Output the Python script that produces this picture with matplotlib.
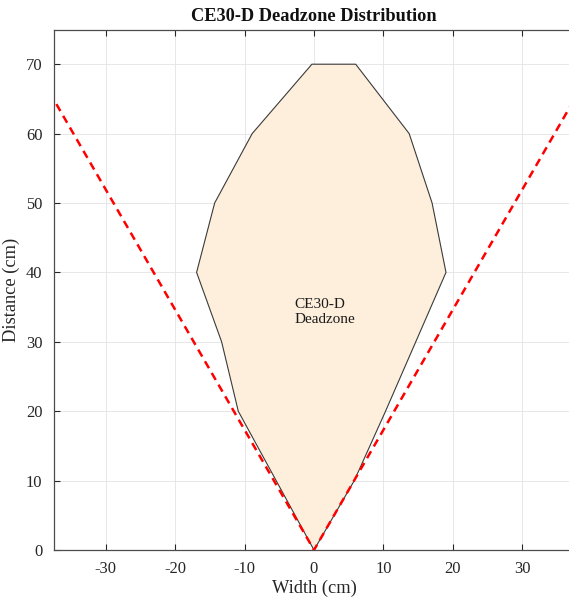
import matplotlib
matplotlib.use('Agg')
import matplotlib.pyplot as plt

# deadzone outline (cm)
zone_x = [0, -10.9, -13.3, -16.9, -14.3, -8.9, -0.3, 6.0, 13.7, 17.0, 19.0, 10.3, 5.8, 0]
zone_y = [0, 20, 30, 40, 50, 60, 70, 70, 60, 50, 40, 20, 10, 0]

# field of view boundary (dashed red)
fov_x = [-40, 0, 40]
fov_y = [69.3, 0, 69.3]

x_ticks = [-30, -20, -10, 0, 10, 20, 30]
y_ticks = [0, 10, 20, 30, 40, 50, 60, 70]

plt.rcParams['font.family'] = ['Liberation Serif', 'DejaVu Serif']
plt.rcParams['axes.unicode_minus'] = False

fig = plt.figure(figsize=(5.69, 6.01), dpi=100)
axs = fig.add_axes([53.5 / 569, 51 / 601, 521 / 569, 520.5 / 601])

# filled deadzone region
axs.fill(zone_x, zone_y, facecolor='#fdefdb', edgecolor='#3a3a3a', linewidth=0.8, zorder=2)

# sensor field of view lines
axs.plot(fov_x, fov_y, '--', color='#ff0000', linewidth=1.8, dashes=(3.2, 2.2), zorder=3)

axs.text(-2.8, 34.3, 'CE30-D\nDeadzone', fontsize=11, color='#1a1a1a',
         ha='left', va='center', linespacing=1.25, zorder=4)

axs.set_xlim(-37.5, 37.5)
axs.set_ylim(0, 75)
axs.set_xticks(x_ticks)
axs.set_yticks(y_ticks)

axs.grid(True, color='#e3e3e3', linewidth=0.6)
axs.set_axisbelow(True)
axs.tick_params(direction='in', length=4, width=0.8, top=True, right=True,
                labelsize=11.9, colors='#262626', pad=8)
for sp in axs.spines.values():
    sp.set_color('#4d4d4d')
    sp.set_linewidth(0.9)

axs.set_xlabel('Width (cm)', fontsize=13.2, color='#262626', labelpad=2)
axs.set_ylabel('Distance (cm)', fontsize=13.2, color='#262626', labelpad=4)
axs.set_title('CE30-D Deadzone Distribution', fontsize=13.2, fontweight='bold',
              color='#111111', pad=6)

fig.savefig('out.png', dpi=100, facecolor='w')
plt.close(fig)
